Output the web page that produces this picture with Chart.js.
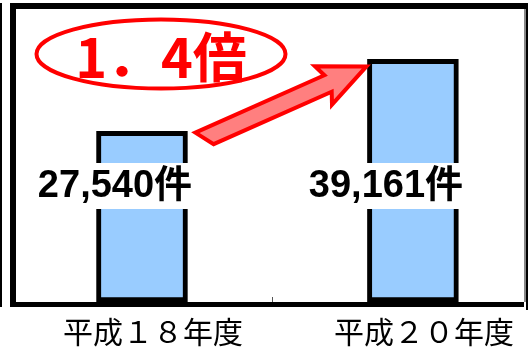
<!DOCTYPE html>
<html>
<head>
<meta charset="utf-8">
<script src="https://cdn.jsdelivr.net/npm/chart.js@4/dist/chart.umd.min.js"></script>
<style>
    html, body { margin: 0; padding: 0; background: #fff; }
    canvas { display: block; }
</style>
</head>
<body>
<canvas id="growthChart" width="528" height="350"></canvas>
<script>
const categories = ['平成１８年度', '平成２０年度'];
const counts = [27540, 39161];
const positions = [1, 2];
const unit = '件';

// 枠線・矢印・楕円・件数ラベルをまとめて描く
const decorations = {
    id: 'decorations',
    afterDatasetsDraw(chart) {
        const ctx = chart.ctx;
        const area = chart.chartArea;
        const bars = chart.getDatasetMeta(0).data;

        ctx.save();
        // 外枠
        ctx.fillStyle = '#000';
        ctx.fillRect(0, area.top - 6, 2, area.bottom - area.top + 11);
        ctx.fillRect(area.left - 6, area.top - 6, area.right - area.left + 10, 6);
        ctx.fillRect(area.left - 6, area.top - 6, 6, area.bottom - area.top + 11);
        ctx.fillRect(area.left - 6, area.bottom, area.right - area.left + 6, 5);
        ctx.fillRect(area.right + 2, area.top - 6, 2, area.bottom - area.top + 14);
        ctx.fillStyle = '#888';
        ctx.fillRect(area.right, area.top, 2, area.bottom - area.top);

        const b1 = bars[0], b2 = bars[1];
        // 区切りの小さな目盛り
        ctx.fillStyle = '#555';
        ctx.fillRect(Math.round((b1.x + b2.x) / 2) - 5, area.bottom - 5, 1, 5);

        // 矢印
        const w1 = b1.width / 2, w2 = b2.width / 2;
        const tail = { x: b1.x + w1 + 17, y: b1.y + 7 };
        const tip = { x: b2.x - w2 - 1, y: b2.y + 7 };
        const dx = tip.x - tail.x, dy = tip.y - tail.y;
        const len = Math.hypot(dx, dy);
        const ux = dx / len, uy = dy / len;
        const nx = -uy, ny = ux;
        const pt = (s, t) => [tail.x + ux * s + nx * t, tail.y + uy * s + ny * t];
        const shape = [
            pt(-6, -9), pt(len - 42, -9), pt(len - 47, -21), pt(len, 0),
            pt(len - 47, 21), pt(len - 42, 9), pt(6, 9)
        ];
        ctx.beginPath();
        shape.forEach(([x, y], i) => i ? ctx.lineTo(x, y) : ctx.moveTo(x, y));
        ctx.closePath();
        ctx.fillStyle = 'rgba(255, 0, 0, 0.5)';
        ctx.fill();
        ctx.lineWidth = 4;
        ctx.lineJoin = 'miter';
        ctx.strokeStyle = '#ff0000';
        ctx.stroke();

        // 倍率の楕円
        const cx = area.left + 145, cy = area.top + 45;
        ctx.beginPath();
        ctx.ellipse(cx, cy, 124.5, 34.5, 0, 0, Math.PI * 2);
        ctx.lineWidth = 4;
        ctx.stroke();
        const ratio = (counts[1] / counts[0]).toFixed(1).replace('.', '．');
        ctx.fillStyle = '#ff0000';
        ctx.font = 'bold 54px "Noto Sans CJK JP"';
        ctx.textAlign = 'center';
        ctx.textBaseline = 'middle';
        ctx.fillText(ratio + '倍', cx, cy + 3);

        // 件数ラベル
        ctx.font = 'bold 38px "Liberation Sans", "Noto Sans CJK JP"';
        const labelY = area.top + 177;
        bars.forEach((bar, i) => {
            const text = counts[i].toLocaleString('en-US') + unit;
            const tw = ctx.measureText(text).width;
            const lx = bar.x - 27;
            ctx.fillStyle = '#fff';
            ctx.fillRect(lx - tw / 2 - 4, labelY - 23, tw + 8, 46);
            ctx.fillStyle = '#000';
            ctx.fillText(text, lx, labelY + 1);
        });
        ctx.restore();
    }
};

new Chart(document.getElementById('growthChart'), {
    type: 'bar',
    data: {
        datasets: [{
            data: counts.map((v, i) => ({ x: positions[i], y: v })),
            backgroundColor: '#99ccff',
            borderColor: '#000',
            borderWidth: 5,
            borderSkipped: false,
            barThickness: 91
        }]
    },
    options: {
        responsive: false,
        animation: false,
        devicePixelRatio: 1,
        layout: { padding: { left: 16, right: 4, top: 9, bottom: -12 } },
        plugins: { legend: { display: false }, tooltip: { enabled: false } },
        scales: {
            x: {
                type: 'linear',
                offset: false,
                min: 0.535,
                max: 2.41,
                grid: { display: false, drawTicks: false },
                border: { display: false },
                afterBuildTicks: axis => { axis.ticks = positions.map(v => ({ value: v })); },
                ticks: {
                    callback: v => categories[positions.indexOf(v)],
                    font: { family: '"Noto Sans CJK JP"', size: 30 },
                    color: '#000',
                    padding: 12,
                    labelOffset: 11,
                    maxRotation: 0,
                    autoSkip: false
                }
            },
            y: { display: false, min: 0, max: 47300 }
        }
    },
    plugins: [decorations]
});
</script>
</body>
</html>
